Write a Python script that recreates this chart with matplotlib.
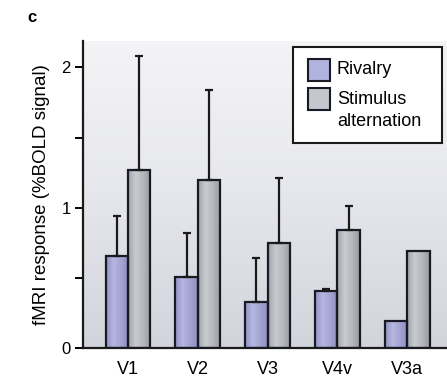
import numpy as np
import matplotlib.pyplot as plt
from matplotlib.colors import LinearSegmentedColormap
from matplotlib.patches import Rectangle

plt.rcParams['font.family'] = ['Liberation Sans', 'DejaVu Sans']

areas = ['V1', 'V2', 'V3', 'V4v', 'V3a']
rivalry = [0.66, 0.51, 0.33, 0.41, 0.19]
rivalry_err = [0.28, 0.31, 0.31, 0.01, 0.0]
stimulus = [1.27, 1.20, 0.75, 0.84, 0.69]
stimulus_err = [0.81, 0.64, 0.46, 0.17, 0.0]
series_names = ['Rivalry', 'Stimulus', 'alternation']

riv_cmap = LinearSegmentedColormap.from_list('riv', ['#9494c4', '#b6b6e2', '#a4a4d2', '#9090c0'])
stim_cmap = LinearSegmentedColormap.from_list('stim', ['#a0a4a8', '#c8ccd0', '#b4b8bc', '#989ca0'])
bg_cmap = LinearSegmentedColormap.from_list('bg', ['#d2d4dc', '#e6e7ec', '#f4f4f6'])

W, H = 447, 378
fig = plt.figure(figsize=(W / 100, H / 100), dpi=100)
ax = fig.add_axes([0.186, 0.079, 0.814, 0.813])

x = np.arange(len(areas))
w = 0.32

# shaded plot background
ax.imshow(np.linspace(0, 1, 256).reshape(-1, 1), cmap=bg_cmap, origin='lower',
          aspect='auto', extent=[0, 1, 0, 1], transform=ax.transAxes, zorder=0)


def gradient_bars(xpos, heights, cmap):
    bars = ax.bar(xpos, heights, w, facecolor='none', edgecolor='#1a1a26',
                  linewidth=1.6, zorder=3)
    for b in bars:
        bx, by = b.get_x(), b.get_y()
        im = ax.imshow(np.linspace(0, 1, 64).reshape(1, -1), cmap=cmap, aspect='auto',
                       extent=[bx, bx + b.get_width(), by, by + b.get_height()], zorder=2)
        im.set_clip_path(b)
    return bars


gradient_bars(x - w / 2, rivalry, riv_cmap)
gradient_bars(x + w / 2, stimulus, stim_cmap)

# upward-only error bars
for xs, vals, errs in [(x - w / 2, rivalry, rivalry_err), (x + w / 2, stimulus, stimulus_err)]:
    for xi, v, e in zip(xs, vals, errs):
        if e > 0:
            ax.errorbar(xi, v, yerr=[[0], [e]], fmt='none', ecolor='#1a1a1a',
                        elinewidth=1.6, capsize=3, capthick=1.6, zorder=4)

ax.set_xlim(-0.643, 4.57)
ax.set_ylim(0, 2.19)
ax.set_xticks(x)
ax.set_xticklabels(areas, fontsize=13)
ax.tick_params(axis='x', length=0, pad=9)
ax.set_yticks([0, 0.5, 1, 1.5, 2])
ax.set_yticklabels(['0', '', '1', '', '2'], fontsize=12)
ax.tick_params(axis='y', length=6, width=1.4, pad=3)
for s in ['top', 'right']:
    ax.spines[s].set_visible(False)
for s in ['left', 'bottom']:
    ax.spines[s].set_linewidth(1.6)
    ax.spines[s].set_color('#1a1a1a')

ax.set_ylabel('fMRI response (%BOLD signal)', fontsize=13.5, labelpad=8)


# legend box drawn in figure pixels so the swatch sits beside the first text line
def px(x0, y0):
    return x0 / W, 1 - y0 / H


fx, fy = px(293, 143)
fig.add_artist(Rectangle((fx, fy), 149 / W, 96 / H, transform=fig.transFigure,
                         facecolor='white', edgecolor='#1a1a1a', linewidth=1.5, zorder=5))
for (top, cmap) in [(59, riv_cmap), (88, stim_cmap)]:
    sx, sy = px(308, top + 22)
    fig.add_artist(Rectangle((sx, sy), 22 / W, 22 / H, transform=fig.transFigure,
                             facecolor=cmap(0.4), edgecolor='#1a1a26', linewidth=1.5, zorder=6))
for name, ty in zip(series_names, [70, 100, 122]):
    tx, tyf = px(337, ty)
    fig.text(tx, tyf, name, fontsize=13, ha='left', va='center', zorder=7)

fig.text(0.072, 0.955, 'c', fontsize=12, fontweight='bold', ha='center', va='center')

fig.savefig('out.png', dpi=100)
